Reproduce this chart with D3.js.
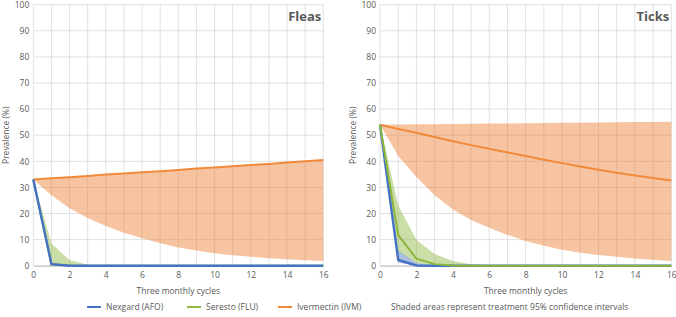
<!DOCTYPE html>
<html><head><meta charset="utf-8">
<script src="https://cdn.jsdelivr.net/npm/d3@7"></script>
<style>
body{margin:0;background:#fff;}
svg text{font-family:"Open Sans",sans-serif;fill:#595959;}
</style></head><body>
<svg id="c" width="676" height="317"></svg>
<script>
const cycles = d3.range(0, 17);
const yTicks = [0,10,20,30,40,50,60,70,80,90,100];
const xTicks = [0,2,4,6,8,10,12,14,16];

// Fleas
const fleaAfoMean  = [33,0.6,0,0,0,0,0,0,0,0,0,0,0,0,0,0,0];
const fleaAfoUpper = [33,1.0,0.1,0,0,0,0,0,0,0,0,0,0,0,0,0,0];
const fleaAfoLower = [33,0.2,0,0,0,0,0,0,0,0,0,0,0,0,0,0,0];
const fleaFluMean  = [33,0.6,0.1,0,0,0,0,0,0,0,0,0,0,0,0,0,0];
const fleaFluUpper = [33,8.5,2.2,0.4,0,0,0,0,0,0,0,0,0,0,0,0,0];
const fleaFluLower = [33,0,0,0,0,0,0,0,0,0,0,0,0,0,0,0,0];
const fleaIvmMean  = [33,33.5,33.9,34.4,34.9,35.3,35.8,36.2,36.7,37.2,37.6,38.1,38.6,39.0,39.5,40.0,40.5];
const fleaIvmUpper = [33,33.5,33.9,34.4,34.9,35.3,35.8,36.2,36.7,37.2,37.6,38.1,38.6,39.0,39.5,40.0,40.5];
const fleaIvmLower = [33,27,22,18.3,15.2,12.6,10.5,8.6,7.0,5.8,4.8,4.0,3.4,2.9,2.5,2.1,1.8];

// Ticks
const tickAfoMean  = [54,2.2,0.1,0,0,0,0,0,0,0,0,0,0,0,0,0,0];
const tickAfoUpper = [54,5.8,1.0,0.2,0,0,0,0,0,0,0,0,0,0,0,0,0];
const tickAfoLower = [54,1.2,0,0,0,0,0,0,0,0,0,0,0,0,0,0,0];
const tickFluMean  = [54,11.7,2.7,0.6,0.1,0,0,0,0,0,0,0,0,0,0,0,0];
const tickFluUpper = [54,23.2,9.8,4.5,1.8,0.6,0.2,0,0,0,0,0,0,0,0,0,0];
const tickFluLower = [54,5.5,1.0,0.2,0,0,0,0,0,0,0,0,0,0,0,0,0];
const tickIvmMean  = [54,52.4,50.9,49.3,47.7,46.2,44.8,43.4,42.0,40.6,39.3,38.0,36.8,35.6,34.6,33.6,32.6];
const tickIvmUpper = [54,54.1,54.2,54.2,54.3,54.4,54.5,54.5,54.6,54.7,54.8,54.8,54.9,55.0,55.1,55.1,55.2];
const tickIvmLower = [54,42,34,27,21.5,17.5,14.5,11.8,9.5,7.6,6.1,5.0,4.1,3.4,2.8,2.3,1.8];

const seriesNames = ["Nexgard (AFO)","Seresto (FLU)","Ivermectin (IVM)"];
const note = "Shaded areas represent treatment 95% confidence intervals";

const colors = {afo:"#4472C4", flu:"#8CB63C", ivm:"#F08A3A"};
const fills  = {afo:"#4472C4", flu:"#8CB63C", ivm:"#ED7D31"};

const svg = d3.select("#c");

function panel(opts){
  const x = d3.scaleLinear().domain([0,16]).range([opts.x0, opts.x1]);
  const y = d3.scaleLinear().domain([0,100]).range([265.7, 4.7]);
  const g = svg.append("g");
  // grid
  g.selectAll(".vg").data(cycles).join("line")
    .attr("x1",d=>x(d)).attr("x2",d=>x(d)).attr("y1",y(0)).attr("y2",y(100))
    .attr("stroke","#D9D9D9").attr("stroke-width",0.8);
  g.selectAll(".hg").data(yTicks).join("line")
    .attr("x1",x(0)).attr("x2",x(16)).attr("y1",d=>y(d)).attr("y2",d=>y(d))
    .attr("stroke","#D9D9D9").attr("stroke-width",0.8);
  // axes
  const ya = d3.axisLeft(y).tickValues(yTicks).tickSize(0).tickPadding(4);
  g.append("g").attr("transform",`translate(${x(0)},0)`).call(ya)
    .call(s=>s.select(".domain").remove())
    .selectAll("text").attr("font-size",8.5).attr("fill","#595959").style("font-family","Open Sans");
  const xa = d3.axisBottom(x).tickValues(xTicks).tickSize(0).tickPadding(6);
  g.append("g").attr("transform",`translate(0,${y(0)})`).call(xa)
    .call(s=>s.select(".domain").attr("stroke","#BFBFBF"))
    .selectAll("text").attr("font-size",8.5).attr("fill","#595959").style("font-family","Open Sans");

  const area = (lo,hi)=>d3.area().x((d,i)=>x(cycles[i])).y0((d,i)=>y(lo[i])).y1((d,i)=>y(hi[i]))(cycles);
  const line = (m)=>d3.line().x((d,i)=>x(cycles[i])).y((d,i)=>y(m[i]))(cycles);

  g.append("path").attr("d",area(opts.ivm[2],opts.ivm[1])).attr("fill",fills.ivm).attr("fill-opacity",0.45);
  g.append("path").attr("d",area(opts.flu[2],opts.flu[1])).attr("fill",fills.flu).attr("fill-opacity",0.45);
  g.append("path").attr("d",area(opts.afo[2],opts.afo[1])).attr("fill",fills.afo).attr("fill-opacity",0.45);

  g.append("path").attr("d",line(opts.ivm[0])).attr("fill","none").attr("stroke",colors.ivm).attr("stroke-width",2);
  const order = opts.greenTop ? ["afo","flu"] : ["flu","afo"];
  order.forEach(k=>{
    g.append("path").attr("d",line(opts[k][0])).attr("fill","none").attr("stroke",colors[k])
      .attr("stroke-width",k==="afo"?2.4:2);
  });

  // axis title
  g.append("text").attr("transform",`translate(${opts.yt},${(y(0)+y(100))/2}) rotate(-90)`)
    .attr("text-anchor","middle").attr("dy","0.35em").attr("font-size",8.5).text("Prevalence (%)");
  g.append("text").attr("x",(x(0)+x(16))/2).attr("y",291).attr("text-anchor","middle")
    .attr("dy","0.35em").attr("font-size",8.5).text("Three monthly cycles");
  // title
  g.append("text").attr("x",x(16)-2).attr("y",16).attr("text-anchor","end").attr("dy","0.35em")
    .attr("font-size",13).attr("font-weight","bold").text(opts.title);
}

panel({x0:33.3,x1:323.3,yt:6,title:"Fleas",
  afo:[fleaAfoMean,fleaAfoUpper,fleaAfoLower],
  flu:[fleaFluMean,fleaFluUpper,fleaFluLower],
  ivm:[fleaIvmMean,fleaIvmUpper,fleaIvmLower], greenTop:false});
panel({x0:380,x1:671.3,yt:353,title:"Ticks",
  afo:[tickAfoMean,tickAfoUpper,tickAfoLower],
  flu:[tickFluMean,tickFluUpper,tickFluLower],
  ivm:[tickIvmMean,tickIvmUpper,tickIvmLower], greenTop:true});

// legend
const lg = svg.append("g");
const legX = [87,187,278];
const keys = ["afo","flu","ivm"];
keys.forEach((k,i)=>{
  lg.append("line").attr("x1",legX[i]).attr("x2",legX[i]+14).attr("y1",307).attr("y2",307)
    .attr("stroke",colors[k]).attr("stroke-width",2);
  lg.append("text").attr("x",legX[i]+19).attr("y",307).attr("dy","0.35em").attr("font-size",8.5).text(seriesNames[i]);
});
lg.append("text").attr("x",391).attr("y",307).attr("dy","0.35em").attr("font-size",8.5).text(note);
</script>
</body></html>
